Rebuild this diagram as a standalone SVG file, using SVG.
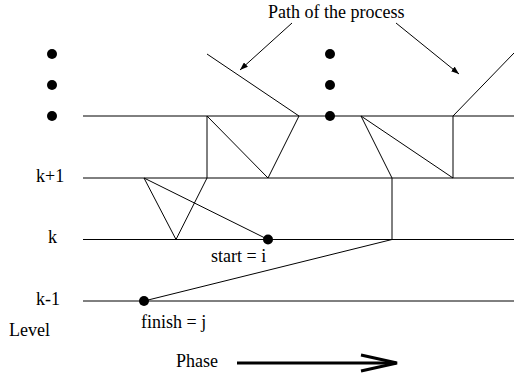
<svg xmlns="http://www.w3.org/2000/svg" width="514" height="373" viewBox="0 0 514 373">
<style>
.t{font-family:"Liberation Serif","Times New Roman",serif;font-size:18px;fill:#000}
.l{stroke:#000;stroke-width:1;fill:none}
.d{fill:#000}
</style>
<defs>
<marker id="ah" markerWidth="8" markerHeight="6" refX="8" refY="3" orient="auto" markerUnits="userSpaceOnUse">
<path d="M0,0 L8,3 L0,6 Z" fill="#000"/>
</marker>
</defs>
<rect width="514" height="373" fill="#fff"/>
<g id="levels">
<line class="l" x1="83" y1="116" x2="514" y2="116"/>
<line class="l" x1="83" y1="178" x2="514" y2="178"/>
<line class="l" x1="83" y1="239.5" x2="514" y2="239.5"/>
<line class="l" x1="83" y1="301" x2="514" y2="301"/>
</g>
<g id="dots">
<circle class="d" cx="52" cy="54" r="5"/>
<circle class="d" cx="52" cy="85" r="5"/>
<circle class="d" cx="52" cy="116" r="5"/>
<circle class="d" cx="330" cy="54" r="5"/>
<circle class="d" cx="330" cy="85" r="5"/>
<circle class="d" cx="330" cy="116" r="5"/>
</g>
<g id="connectors">
<polyline class="l" points="207,54 299,116 268,178 207,116 207,178 176,239.5 144,178 268,239.5"/>
<polyline class="l" points="392,178 361,116 453,178 453,116 514,53"/>
<polyline class="l" points="392,178 392,239.5 144,301"/>
<line class="l" x1="292" y1="23" x2="240" y2="70" marker-end="url(#ah)"/>
<line class="l" x1="396" y1="23" x2="459" y2="74" marker-end="url(#ah)"/>
<line x1="237" y1="363" x2="396" y2="363" stroke="#000" stroke-width="3"/>
<polyline points="361,355 397,363 361,371" fill="none" stroke="#000" stroke-width="3"/>
</g>
<g id="start"><circle class="d" cx="268" cy="239.5" r="5"/><text class="t" x="211" y="262">start = i</text></g>
<g id="finish"><circle class="d" cx="144" cy="301" r="5"/><text class="t" x="141" y="328">finish = j</text></g>
<g id="labels">
<text class="t" x="268" y="18">Path of the process</text>
<text class="t" x="36" y="182">k+1</text>
<text class="t" x="48" y="243">k</text>
<text class="t" x="36" y="305">k-1</text>
<text class="t" x="9" y="336">Level</text>
<text class="t" x="176" y="367">Phase</text>
</g>
</svg>
